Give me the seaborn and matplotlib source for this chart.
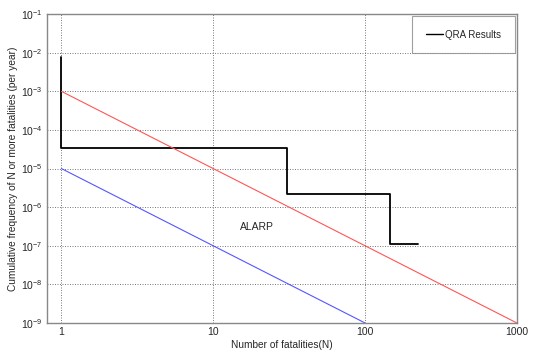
import matplotlib
matplotlib.use("Agg")
import matplotlib.pyplot as plt
import seaborn as sns
import numpy as np

# Data
qra_n = [1, 1, 30.5, 30.5, 145, 145, 222]
qra_f = [7.7e-3, 3.5e-5, 3.5e-5, 2.2e-6, 2.2e-6, 1.1e-7, 1.1e-7]
upper_n = [1, 1000]
upper_f = [1e-3, 1e-9]
lower_n = [1, 100]
lower_f = [1e-5, 1e-9]
x_ticks = [1, 10, 100, 1000]
x_ticklabels = ["1", "10", "100", "1000"]
y_ticks = [1e-9, 1e-8, 1e-7, 1e-6, 1e-5, 1e-4, 1e-3, 1e-2, 1e-1]

sns.set_theme(style="white")
plt.rcParams['font.family'] = ['Liberation Sans', 'DejaVu Sans']
plt.rcParams['mathtext.fontset'] = 'custom'
plt.rcParams['mathtext.rm'] = 'Liberation Sans'

fig = plt.figure(figsize=(5.34, 3.53), dpi=100)
ax = fig.add_axes([0.0874, 0.085, 0.8806, 0.875])

sns.lineplot(x=qra_n, y=qra_f, ax=ax, color="black", lw=1.3, sort=False,
             estimator=None, label="QRA Results")
sns.lineplot(x=upper_n, y=upper_f, ax=ax, color="#ff5555", lw=0.8, sort=False,
             estimator=None, legend=False)
sns.lineplot(x=lower_n, y=lower_f, ax=ax, color="#5555ff", lw=0.8, sort=False,
             estimator=None, legend=False)

ax.set_xscale("log")
ax.set_yscale("log")
ax.set_xlim(0.8, 1000)
ax.set_ylim(1e-9, 1e-1)
ax.set_xticks(x_ticks)
ax.set_xticklabels(x_ticklabels)
ax.set_yticks(y_ticks)
ax.minorticks_off()
ax.tick_params(axis="both", labelsize=7.5, length=0, pad=3)
ax.grid(True, which="major", linestyle=(0, (1.2, 1.8)), color="#666666", lw=0.6)

for s in ax.spines.values():
    s.set_color("#888888")
    s.set_linewidth(1.0)

ax.text(19.5, 3e-7, "ALARP", fontsize=7.5, ha="center", va="center")
ax.set_xlabel("Number of fatalities(N)", fontsize=7.3, labelpad=2)
ax.set_ylabel("Cumulative frequency of N or more fatalities (per year)", fontsize=7.3, labelpad=2)

leg = ax.legend(loc="upper right", fontsize=7, frameon=True, fancybox=False,
                borderpad=1.4, handlelength=1.8, handletextpad=0.2,
                borderaxespad=0.2)
for h in leg.get_lines():
    h.set_linewidth(1.0)
leg.get_frame().set_edgecolor("#888888")
leg.get_frame().set_linewidth(0.8)

fig.savefig("out.png", dpi=100)
